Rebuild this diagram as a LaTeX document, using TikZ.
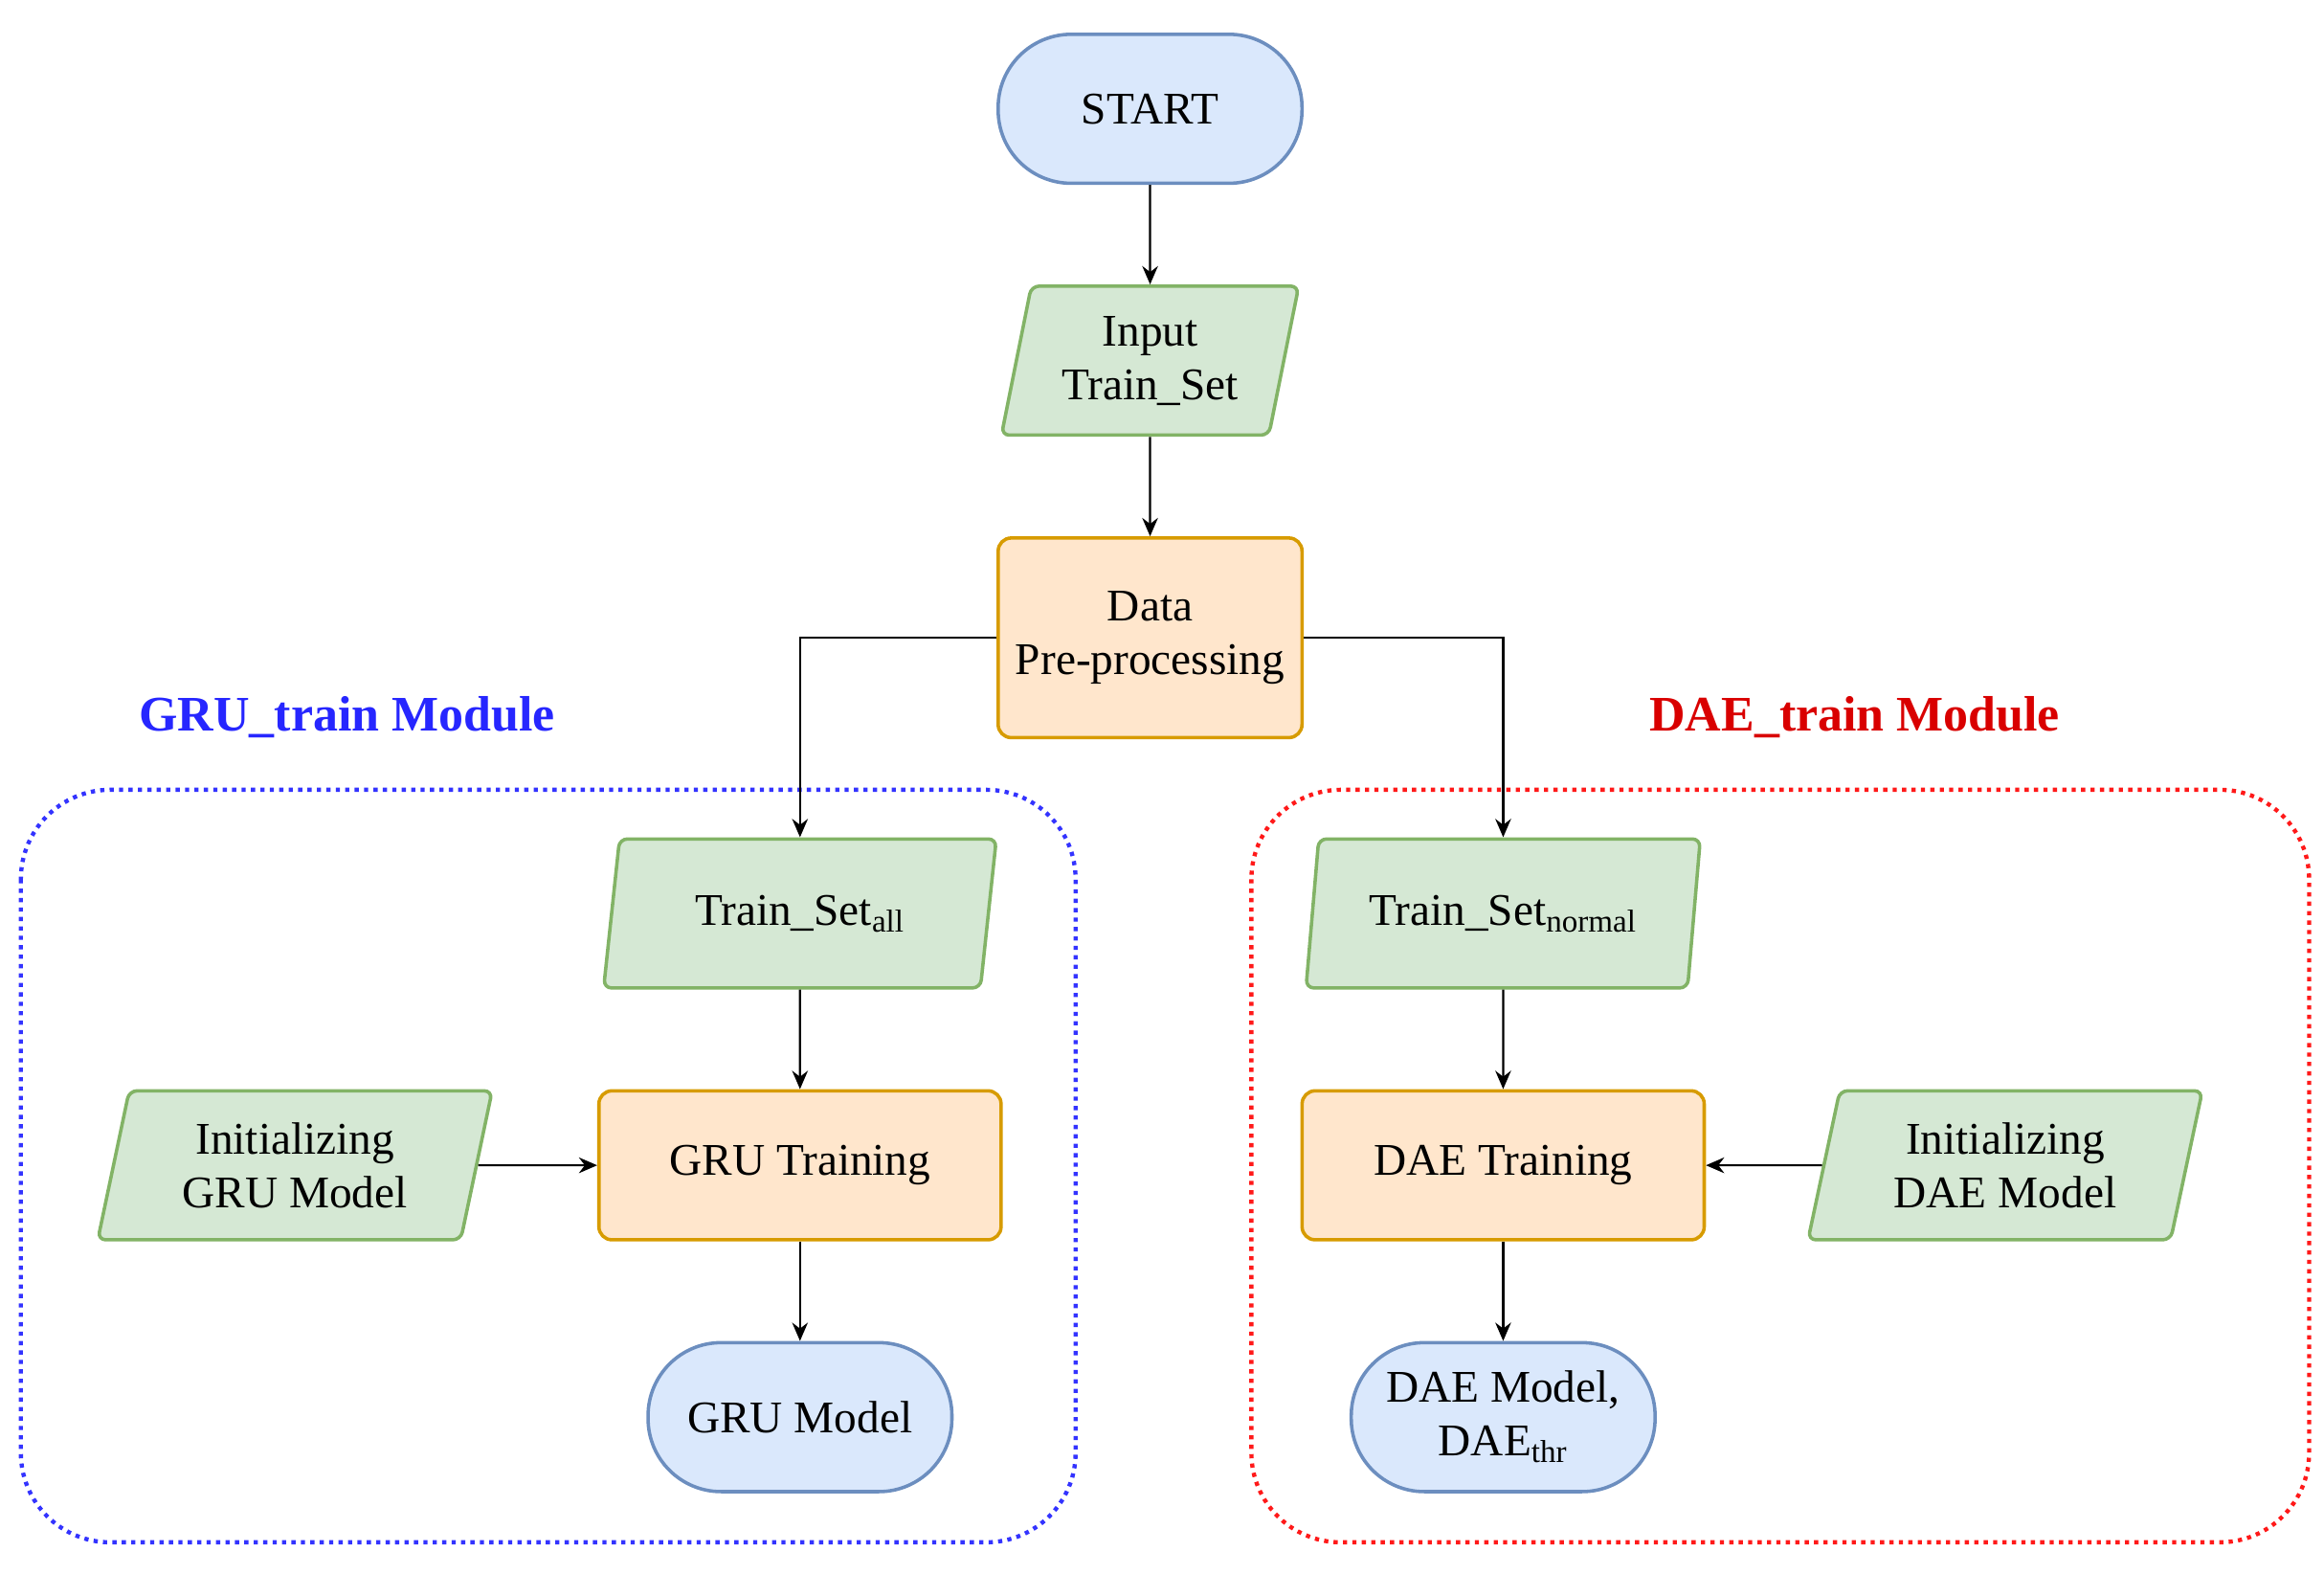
\documentclass[tikz,border=0pt]{standalone}
\usepackage{fontspec}
\setmainfont{Liberation Serif}
\usetikzlibrary{shapes.geometric,arrows.meta}
\definecolor{bF}{HTML}{DAE8FC}\definecolor{bS}{HTML}{6C8EBF}
\definecolor{gF}{HTML}{D5E8D4}\definecolor{gS}{HTML}{82B366}
\definecolor{oF}{HTML}{FFE6CC}\definecolor{oS}{HTML}{D79B00}
\begin{document}
\begin{tikzpicture}[x=0.02cm,y=-0.02cm,
 every node/.style={font=\fontsize{17.3}{20.5}\selectfont,align=center,line width=1.3pt},
 term/.style={draw=bS,fill=bF,rounded corners=0.98cm,minimum width=4.08cm,minimum height=2cm,inner sep=0pt},
 io/.style={draw=gS,fill=gF,trapezium,trapezium left angle=76,trapezium right angle=-76,trapezium stretches=true,rounded corners=3pt,minimum width=#1,minimum height=2cm,inner sep=0pt},
 proc/.style={draw=oS,fill=oF,rounded corners=5pt,minimum width=#1,inner sep=0pt},
 arr/.style={-{Stealth[length=7pt,width=6pt]},line width=0.8pt}]
\useasboundingbox (0,0) rectangle (1560,1056);
\draw[blue!80!white,dotted,line width=1.6pt,rounded corners=1.2cm] (14,530) rectangle (722,1035);
\draw[red!90!white,dotted,line width=1.6pt,rounded corners=1.2cm] (840,530) rectangle (1550,1035);
\node[font=\fontsize{19}{22}\selectfont\bfseries,text=blue!85!white] (lg) at (233,481) {GRU\_train Module};
\node[font=\fontsize{19}{22}\selectfont\bfseries,text=red!85!black] (ld) at (1245,481) {DAE\_train Module};
\node[term] (start) at (772,73) {START};
\node[io=4cm] (in) at (772,242) {Input\\Train\_Set};
\node[proc=4.08cm,minimum height=2.68cm] (pre) at (772,428) {Data\\Pre-processing};
\node[io=5.3cm] (tsa) at (537,613) {Train\_Set\textsubscript{all}};
\node[proc=5.4cm,minimum height=2cm] (gt) at (537,782) {GRU Training};
\node[io=5.3cm] (ig) at (198,782) {Initializing\\GRU Model};
\node[term] (gm) at (537,951) {GRU Model};
\node[io=5.3cm] (tsn) at (1009,613) {Train\_Set\textsubscript{normal}};
\node[proc=5.4cm,minimum height=2cm] (dt) at (1009,782) {DAE Training};
\node[io=5.3cm] (id) at (1346,782) {Initializing\\DAE Model};
\node[term] (dm) at (1009,951) {DAE Model,\\DAE\textsubscript{thr}};
\draw[arr] (start) -- (in);
\draw[arr] (in) -- (pre);
\draw[arr] (pre.west) -| (tsa.north);
\draw[arr] (pre.east) -| (tsn.north);
\draw[arr] (tsa) -- (gt);
\draw[arr] (ig) -- (gt);
\draw[arr] (gt) -- (gm);
\draw[arr] (tsn) -- (dt);
\draw[arr] (id) -- (dt);
\draw[arr] (dt) -- (dm);
\end{tikzpicture}
\end{document}
